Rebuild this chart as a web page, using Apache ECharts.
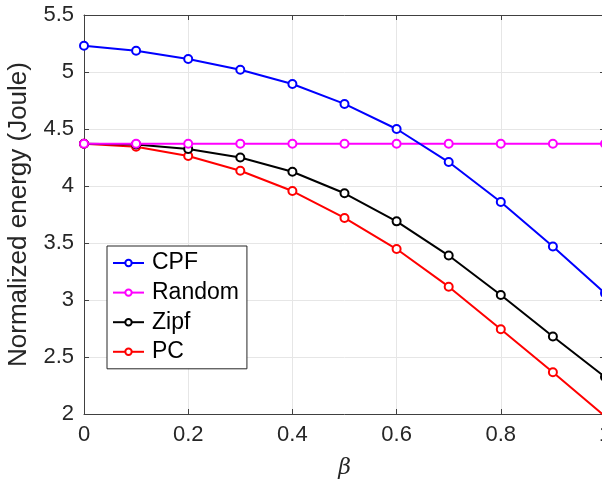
<!DOCTYPE html>
<html>
<head>
<meta charset="utf-8">
<script src="https://cdn.jsdelivr.net/npm/echarts@6/dist/echarts.min.js"></script>
<style>
html,body{margin:0;padding:0;overflow:hidden;background:#fff;}
#c{width:606px;height:482px;}
</style>
</head>
<body>
<div id="c"></div>
<script>
const beta = [0, 0.1, 0.2, 0.3, 0.4, 0.5, 0.6, 0.7, 0.8, 0.9, 1.0];
const cpf = [5.23, 5.187, 5.114, 5.02, 4.895, 4.72, 4.50, 4.21, 3.86, 3.47, 3.06];
const random = [4.37, 4.37, 4.37, 4.37, 4.37, 4.37, 4.37, 4.37, 4.37, 4.37, 4.37];
const zipf = [4.37, 4.365, 4.325, 4.25, 4.125, 3.936, 3.69, 3.39, 3.044, 2.68, 2.325];
const pc = [4.37, 4.345, 4.263, 4.134, 3.956, 3.72, 3.447, 3.117, 2.743, 2.366, 1.98];
const seriesNames = ['CPF', 'Random', 'Zipf', 'PC'];
const seriesColors = ['#0000ff', '#ff00ff', '#000000', '#ff0000'];
const seriesData = [cpf, random, zipf, pc];

const chart = echarts.init(document.getElementById('c'));
const font = 'Liberation Sans, Arial, Helvetica, sans-serif';
const axisCol = '#404040';
const series = seriesNames.map((n, i) => ({
  name: n,
  type: 'line',
  data: beta.map((b, j) => [b, seriesData[i][j]]),
  symbol: 'emptyCircle',
  symbolSize: 8,
  lineStyle: { color: seriesColors[i], width: 2 },
  itemStyle: { color: seriesColors[i], borderWidth: 2 },
  z: 10 - i,
  animation: false
}));
chart.setOption({
  animation: false,
  grid: { left: 84, right: 1, top: 15, bottom: 68, outerBoundsMode: 'none', containLabel: false },
  legend: {
    orient: 'vertical',
    left: 107, top: 246,
    padding: [4, 8, 4, 5],
    itemGap: 3.6,
    itemWidth: 31, itemHeight: 8,
    borderColor: '#262626', borderWidth: 1,
    backgroundColor: '#fff',
    data: seriesNames,
    itemStyle: { borderWidth: 1.5 },
    textStyle: { fontFamily: font, fontSize: 23, color: '#000', lineHeight: 26, padding: [0, 0, 0, 3] }
  },
  xAxis: [{
    type: 'value', min: 0, max: 1, interval: 0.2,
    axisLine: { show: true, lineStyle: { color: axisCol, width: 1 } },
    axisTick: { show: true, inside: true, length: 5, lineStyle: { color: axisCol } },
    splitLine: { show: true, lineStyle: { color: '#e6e6e6', width: 1 } },
    axisLabel: { fontFamily: font, fontSize: 22, color: '#262626', margin: 10,
      formatter: v => (Math.round(v * 10) / 10).toString() },
    name: 'β', nameLocation: 'middle', nameGap: 43,
    nameTextStyle: { fontFamily: 'DejaVu Serif, Liberation Serif, serif', fontStyle: 'italic', fontSize: 22, color: '#262626' }
  }, {
    type: 'value', position: 'top', min: 0, max: 1, interval: 0.2,
    axisLine: { show: true, onZero: false, lineStyle: { color: axisCol, width: 1 } },
    axisTick: { show: true, inside: true, length: 5, lineStyle: { color: axisCol } },
    axisLabel: { show: false }, splitLine: { show: false }
  }],
  yAxis: [{
    type: 'value', min: 2, max: 5.5, interval: 0.5,
    axisLine: { show: true, lineStyle: { color: axisCol, width: 1 } },
    axisTick: { show: true, inside: true, length: 5, lineStyle: { color: axisCol } },
    splitLine: { show: true, lineStyle: { color: '#e6e6e6', width: 1 } },
    axisLabel: { fontFamily: font, fontSize: 22, color: '#262626', margin: 10,
      formatter: v => (Math.round(v * 10) / 10).toString() },
    name: 'Normalized energy (Joule)', nameLocation: 'middle', nameGap: 52,
    nameTextStyle: { fontFamily: font, fontSize: 26, color: '#262626' }
  }, {
    type: 'value', position: 'right', min: 2, max: 5.5, interval: 0.5,
    axisLine: { show: true, onZero: false, lineStyle: { color: axisCol, width: 1 } },
    axisTick: { show: true, inside: true, length: 5, lineStyle: { color: axisCol } },
    axisLabel: { show: false }, splitLine: { show: false }
  }],
  series: series
});
</script>
</body>
</html>
